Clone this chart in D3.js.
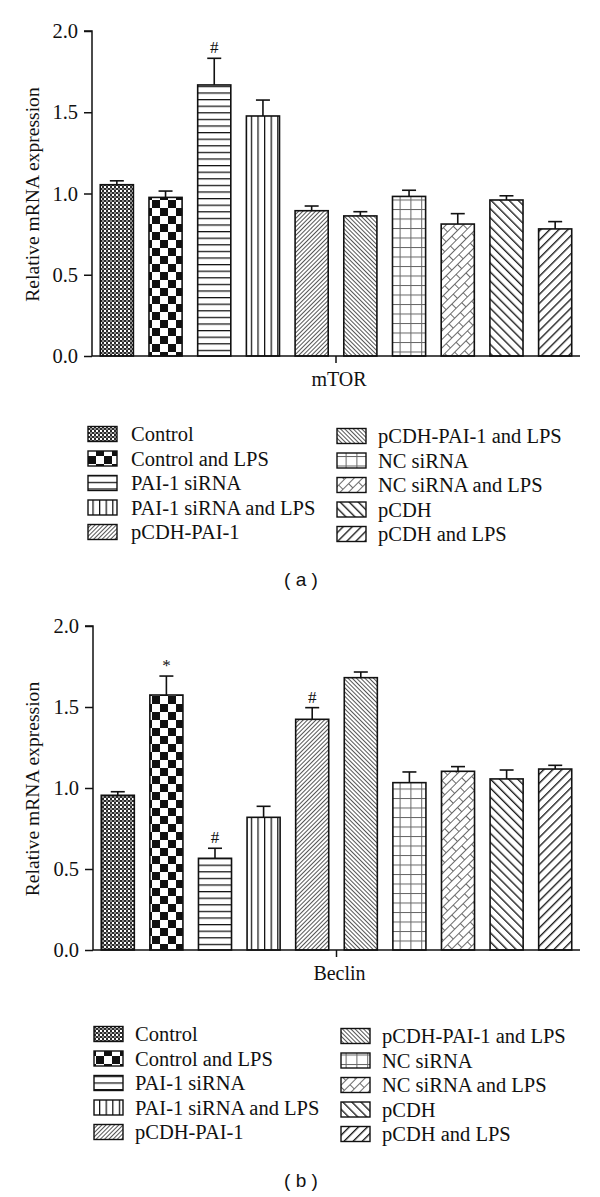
<!DOCTYPE html>
<html>
<head>
<meta charset="utf-8">
<script src="https://cdn.jsdelivr.net/npm/d3@7"></script>
<style>
  html, body { margin: 0; padding: 0; background: #fff; }
  svg { display: block; }
</style>
</head>
<body>
<svg id="chart" width="600" height="1197"></svg>
<script>
// ---------------- DATA ----------------
const categories = [
  "Control", "Control and LPS", "PAI-1 siRNA", "PAI-1 siRNA and LPS", "pCDH-PAI-1",
  "pCDH-PAI-1 and LPS", "NC siRNA", "NC siRNA and LPS", "pCDH", "pCDH and LPS"
];
const mtorValues = [1.054, 0.976, 1.668, 1.477, 0.894, 0.862, 0.982, 0.812, 0.960, 0.782];
const mtorErrors = [0.024, 0.039, 0.164, 0.098, 0.029, 0.026, 0.038, 0.064, 0.026, 0.045];
const mtorMarks  = ["", "", "#", "", "", "", "", "", "", ""];
const beclinValues = [0.955, 1.574, 0.566, 0.819, 1.424, 1.681, 1.033, 1.103, 1.056, 1.117];
const beclinErrors = [0.022, 0.117, 0.062, 0.068, 0.072, 0.035, 0.066, 0.029, 0.055, 0.023];
const beclinMarks  = ["", "*", "#", "", "#", "", "", "", "", ""];
const yTicks = [0, 0.5, 1.0, 1.5, 2.0];
const yLabel = "Relative mRNA expression";
const panelGenes = ["mTOR", "Beclin"];
const panelLetters = ["( a )", "( b )"];

// ---------------- PATTERNS ----------------
const svg = d3.select("#chart");
const defs = svg.append("defs");
const INK = "#111";
const patIds = categories.map((c, i) => "pat" + i);

function pattern(id, w, h, transform) {
  const p = defs.append("pattern").attr("id", id)
    .attr("patternUnits", "userSpaceOnUse").attr("width", w).attr("height", h);
  if (transform) p.attr("patternTransform", transform);
  p.append("rect").attr("width", w).attr("height", h).attr("fill", "#fff");
  return p;
}
// 0 Control: fine checker
{ const p = pattern(patIds[0], 4, 4);
  p.append("rect").attr("width", 2).attr("height", 2).attr("fill", "#2a2a2a");
  p.append("rect").attr("x", 2).attr("y", 2).attr("width", 2).attr("height", 2).attr("fill", "#2a2a2a");
  p.append("rect").attr("x", 2).attr("y", 0).attr("width", 2).attr("height", 2).attr("fill", "#8a8a8a");
}
// 1 Control and LPS: big checker
{ const p = pattern(patIds[1], 16, 16);
  p.append("rect").attr("width", 8).attr("height", 8).attr("fill", "#111");
  p.append("rect").attr("x", 8).attr("y", 8).attr("width", 8).attr("height", 8).attr("fill", "#111");
}
// 2 PAI-1 siRNA: horizontal lines
{ const p = pattern(patIds[2], 6, 6.6);
  p.append("line").attr("x1", 0).attr("x2", 6).attr("y1", 0.6).attr("y2", 0.6)
    .attr("stroke", INK).attr("stroke-width", 1.3);
}
// 3 PAI-1 siRNA and LPS: vertical lines
{ const p = pattern(patIds[3], 6.6, 6);
  p.append("line").attr("y1", 0).attr("y2", 6).attr("x1", 0.6).attr("x2", 0.6)
    .attr("stroke", INK).attr("stroke-width", 1.3);
}
// 4 pCDH-PAI-1: fine "/" gray
{ const p = pattern(patIds[4], 3, 3, "rotate(45)");
  p.append("line").attr("y1", 0).attr("y2", 3).attr("x1", 0.5).attr("x2", 0.5)
    .attr("stroke", "#555").attr("stroke-width", 1);
}
// 5 pCDH-PAI-1 and LPS: fine "\" gray
{ const p = pattern(patIds[5], 3, 3, "rotate(-45)");
  p.append("line").attr("y1", 0).attr("y2", 3).attr("x1", 0.5).attr("x2", 0.5)
    .attr("stroke", "#555").attr("stroke-width", 1);
}
// 6 NC siRNA: grid
{ const p = pattern(patIds[6], 10.8, 9.5);
  p.append("line").attr("x1", 0).attr("x2", 10.8).attr("y1", 0.5).attr("y2", 0.5)
    .attr("stroke", "#666").attr("stroke-width", 1);
  p.append("line").attr("y1", 0).attr("y2", 9.5).attr("x1", 0.5).attr("x2", 0.5)
    .attr("stroke", "#666").attr("stroke-width", 1);
}
// 7 NC siRNA and LPS: diagonal brick
{ const p = pattern(patIds[7], 16, 12, "rotate(-45)");
  const s = "#6a6a6a";
  p.append("line").attr("x1", 0).attr("x2", 16).attr("y1", 0.5).attr("y2", 0.5).attr("stroke", s).attr("stroke-width", 1);
  p.append("line").attr("x1", 0).attr("x2", 16).attr("y1", 6.5).attr("y2", 6.5).attr("stroke", s).attr("stroke-width", 1);
  p.append("line").attr("x1", 0.5).attr("x2", 0.5).attr("y1", 0).attr("y2", 6).attr("stroke", s).attr("stroke-width", 1);
  p.append("line").attr("x1", 8.5).attr("x2", 8.5).attr("y1", 6).attr("y2", 12).attr("stroke", s).attr("stroke-width", 1);
}
// 8 pCDH: "\" black
{ const p = pattern(patIds[8], 6.4, 6.4, "rotate(-45)");
  p.append("line").attr("y1", 0).attr("y2", 6.4).attr("x1", 0.7).attr("x2", 0.7)
    .attr("stroke", INK).attr("stroke-width", 1.3);
}
// 9 pCDH and LPS: "/" black
{ const p = pattern(patIds[9], 6.4, 6.4, "rotate(45)");
  p.append("line").attr("y1", 0).attr("y2", 6.4).attr("x1", 0.7).attr("x2", 0.7)
    .attr("stroke", INK).attr("stroke-width", 1.3);
}

// ---------------- PANELS ----------------
const SERIF = "'Liberation Serif', 'Times New Roman', serif";
const panels = [
  { values: mtorValues, errors: mtorErrors, marks: mtorMarks, gene: panelGenes[0], letter: panelLetters[0],
    top: 31, bottom: 356, left: 92, right: 580, yLabelX: 32,
    legTop: 434, legL: [88, 131], legR: [337, 378], letterY: 579 },
  { values: beclinValues, errors: beclinErrors, marks: beclinMarks, gene: panelGenes[1], letter: panelLetters[1],
    top: 626, bottom: 950, left: 93, right: 580, yLabelX: 32,
    legTop: 1034, legL: [94, 135], legR: [341, 382], letterY: 1180 }
];

panels.forEach(P => {
  const g = svg.append("g");
  const y = d3.scaleLinear().domain([0, 2]).range([P.bottom, P.top]);
  const x = d3.scaleBand().domain(categories).range([P.left, P.right])
    .paddingInner(0.32).paddingOuter(0.17);

  // error bars
  const eg = g.append("g");
  categories.forEach((c, i) => {
    const cx = x(c) + x.bandwidth() / 2;
    const v = P.values[i], e = P.errors[i];
    eg.append("line").attr("x1", cx).attr("x2", cx).attr("y1", y(v)).attr("y2", y(v + e))
      .attr("stroke", INK).attr("stroke-width", 1.6);
    eg.append("line").attr("x1", cx - 7).attr("x2", cx + 7).attr("y1", y(v + e)).attr("y2", y(v + e))
      .attr("stroke", INK).attr("stroke-width", 1.6);
    if (P.marks[i]) {
      eg.append("text").attr("x", cx).attr("y", y(v + e) - 5)
        .attr("text-anchor", "middle").attr("font-family", SERIF)
        .attr("font-size", 17).attr("fill", INK).text(P.marks[i]);
    }
  });

  // bars
  g.append("g").selectAll("rect").data(categories).join("rect")
    .attr("x", d => x(d)).attr("width", x.bandwidth())
    .attr("y", (d, i) => y(P.values[i]))
    .attr("height", (d, i) => P.bottom - y(P.values[i]))
    .attr("fill", (d, i) => `url(#${patIds[i]})`)
    .attr("stroke", INK).attr("stroke-width", 1.6);

  // y axis
  const ya = g.append("g").attr("transform", `translate(${P.left},0)`)
    .call(d3.axisLeft(y).tickValues(yTicks).tickFormat(d3.format(".1f")).tickSize(8).tickPadding(6));
  ya.select(".domain").attr("stroke", INK).attr("stroke-width", 1.5).attr("d", `M-8,${P.top}H0V${P.bottom}`);
  ya.selectAll(".tick line").attr("stroke", INK).attr("stroke-width", 1.5);
  ya.selectAll(".tick text").attr("font-family", SERIF).attr("font-size", 20.5).attr("fill", INK);

  // x axis
  g.append("line").attr("x1", P.left).attr("x2", P.right).attr("y1", P.bottom).attr("y2", P.bottom)
    .attr("stroke", INK).attr("stroke-width", 1.5);
  const mid = (P.left + P.right) / 2;
  g.append("line").attr("x1", mid).attr("x2", mid).attr("y1", P.bottom).attr("y2", P.bottom + 7)
    .attr("stroke", INK).attr("stroke-width", 1.5);
  g.append("text").attr("x", mid + 3).attr("y", P.bottom + 30).attr("text-anchor", "middle")
    .attr("font-family", SERIF).attr("font-size", 20).attr("fill", INK).text(P.gene);

  // y label
  g.append("text").attr("transform", `translate(${P.yLabelX},${(P.top + P.bottom) / 2 + 1}) rotate(-90)`)
    .attr("text-anchor", "middle").attr("dominant-baseline", "central")
    .attr("font-family", SERIF).attr("font-size", 19.6).attr("fill", INK).text(yLabel);

  // legend
  const lg = g.append("g");
  categories.forEach((c, i) => {
    const col = i < 5 ? P.legL : P.legR;
    const row = i % 5;
    const cy = P.legTop + row * 24.5 + (i < 5 ? 0 : 2);
    lg.append("rect").attr("x", col[0]).attr("y", cy - 7.5).attr("width", 29).attr("height", 15)
      .attr("fill", `url(#${patIds[i]})`).attr("stroke", INK).attr("stroke-width", 1.4);
    lg.append("text").attr("x", col[1]).attr("y", cy).attr("dominant-baseline", "central")
      .attr("font-family", SERIF).attr("font-size", 20.5).attr("fill", INK).text(c);
  });

  // panel letter
  g.append("text").attr("x", 301).attr("y", P.letterY).attr("text-anchor", "middle")
    .attr("dominant-baseline", "central")
    .attr("font-family", "'Liberation Sans', Arial, sans-serif").attr("font-size", 19)
    .attr("fill", INK).text(P.letter);
});
</script>
</body>
</html>
